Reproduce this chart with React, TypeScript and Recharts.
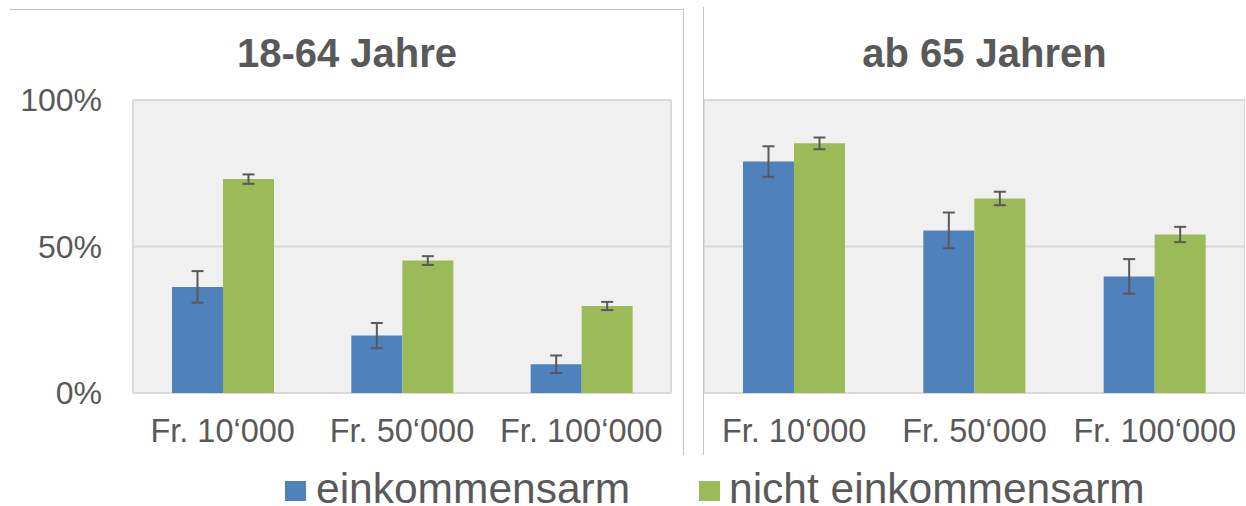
import React from 'react';
import { BarChart, Bar, XAxis, YAxis, CartesianGrid, ErrorBar } from 'recharts';

const categories = ['Fr. 10‘000', 'Fr. 50‘000', 'Fr. 100‘000'];
const yTicks = [0, 50, 100];

const youngPoor = [36.2, 19.6, 9.8];
const youngPoorErr = [5.4, 4.3, 3.0];
const youngNonPoor = [73.0, 45.2, 29.7];
const youngNonPoorErr = [1.6, 1.5, 1.4];

const oldPoor = [79.0, 55.5, 39.8];
const oldPoorErr = [5.2, 6.1, 5.9];
const oldNonPoor = [85.2, 66.4, 54.1];
const oldNonPoorErr = [2.0, 2.3, 2.6];

const panelTitles = ['18-64 Jahre', 'ab 65 Jahren'];
const seriesNames = ['einkommensarm', 'nicht einkommensarm'];

const BLUE = '#4f81bd';
const GREEN = '#9bbb59';
const TEXT = '#595959';
const GRID = '#d9d9d9';
const FONT = '"Liberation Sans", Arial, sans-serif';

const build = (a: number[], ae: number[], b: number[], be: number[]) =>
  categories.map((c, i) => ({ cat: c, a: a[i], ae: ae[i], b: b[i], be: be[i] }));

const youngData = build(youngPoor, youngPoorErr, youngNonPoor, youngNonPoorErr);
const oldData = build(oldPoor, oldPoorErr, oldNonPoor, oldNonPoorErr);

const vGen = (props: any) => {
  const o = props.offset;
  return [o.left, o.left + o.width];
};

function Panel({ data, showY, width, left, marginRight }: any) {
  return (
    <div style={{ position: 'absolute', left, top: 0 }}>
      <BarChart
        width={width}
        height={506}
        data={data}
        margin={{ top: 100, right: marginRight, bottom: 52, left: 0 }}
        barGap={0}
        barSize={51}
      >
        <CartesianGrid
          fill="#f0f0f0"
          stroke={GRID}
          strokeWidth={2}
          vertical={true}
          verticalCoordinatesGenerator={vGen}
        />
        <XAxis
          dataKey="cat"
          tickLine={false}
          axisLine={false}
          height={61}
          tickMargin={20}
          interval={0}
          tick={{ fill: TEXT, fontSize: 32.5, fontFamily: FONT }}
        />
        <YAxis
          hide={!showY}
          width={133}
          domain={[0, 100]}
          ticks={yTicks}
          tickLine={false}
          axisLine={false}
          tickMargin={25}
          tickFormatter={(v: number) => `${v}%`}
          tick={{ fill: TEXT, fontSize: 32, fontFamily: FONT }}
        />
        <Bar dataKey="a" fill={BLUE} isAnimationActive={false}>
          <ErrorBar dataKey="ae" width={6} stroke={TEXT} strokeWidth={2} />
        </Bar>
        <Bar dataKey="b" fill={GREEN} isAnimationActive={false}>
          <ErrorBar dataKey="be" width={6} stroke={TEXT} strokeWidth={2} />
        </Bar>
      </BarChart>
    </div>
  );
}

export default function App() {
  return (
    <div
      style={{
        position: 'absolute',
        left: 0,
        top: 0,
        width: 1246,
        height: 506,
        background: '#fff',
        overflow: 'hidden',
        fontFamily: FONT,
      }}
    >
      <Panel data={youngData} showY={true} width={683} left={0} marginRight={12} />
      <Panel data={oldData} showY={false} width={541} left={704} marginRight={0} />
      <svg
        width={1246}
        height={506}
        style={{ position: 'absolute', left: 0, top: 0, pointerEvents: 'none' }}
      >
        <line x1={10} y1={9.5} x2={683.5} y2={9.5} stroke="#c4c4c4" strokeWidth={1} />
        <line x1={683.5} y1={9} x2={683.5} y2={455} stroke="#c4c4c4" strokeWidth={1} />
        <line x1={703.5} y1={7} x2={703.5} y2={455} stroke="#c4c4c4" strokeWidth={1} />
        <text x={347} y={66.5} textAnchor="middle" fontSize={40} fontWeight="bold" fill={TEXT} fontFamily={FONT}>
          {panelTitles[0]}
        </text>
        <text x={984.5} y={66.5} textAnchor="middle" fontSize={40} fontWeight="bold" fill={TEXT} fontFamily={FONT}>
          {panelTitles[1]}
        </text>
        <rect x={285} y={481} width={21} height={20} fill={BLUE} />
        <text x={316} y={503} fontSize={42.5} fill={TEXT} fontFamily={FONT}>
          {seriesNames[0]}
        </text>
        <rect x={699} y={481} width={21} height={20} fill={GREEN} />
        <text x={729} y={503} fontSize={42.5} fill={TEXT} fontFamily={FONT}>
          {seriesNames[1]}
        </text>
      </svg>
    </div>
  );
}
